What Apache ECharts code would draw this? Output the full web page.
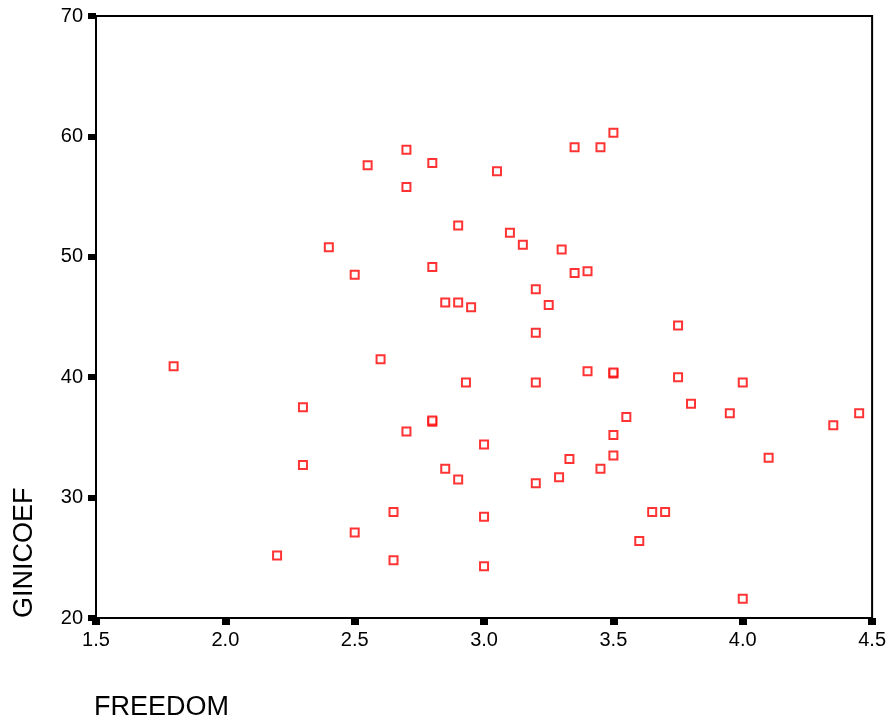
<!DOCTYPE html>
<html>
<head>
<meta charset="utf-8">
<script src="https://cdn.jsdelivr.net/npm/echarts@6/dist/echarts.min.js"></script>
<style>
html,body{margin:0;padding:0;background:#fff;}
#chart{width:889px;height:721px;}
</style>
</head>
<body>
<div id="chart"></div>
<script>
var xTicks = [1.5, 2.0, 2.5, 3.0, 3.5, 4.0, 4.5];
var yTicks = [20, 30, 40, 50, 60, 70];
var xName = 'FREEDOM';
var yName = 'GINICOEF';

var freedom = [
  2.55, 2.7, 2.8, 2.7, 2.9, 2.4, 2.8, 2.5, 2.85, 2.9, 2.95,
  3.5, 3.35, 3.45, 3.05, 3.1, 3.15, 3.3, 3.35, 3.4, 3.2, 3.25,
  1.8, 2.6, 2.93, 2.3, 2.8, 2.8, 2.7, 2.3, 2.85, 2.9, 2.65, 2.5, 2.2, 2.65,
  3.2, 3.75, 3.4, 3.5, 3.5, 3.75, 3.2, 4.0, 3.8, 3.95, 4.45, 3.55, 4.35,
  3.0, 3.5, 3.5, 3.33, 4.1, 3.45, 3.29, 3.2, 3.0, 3.65, 3.7, 3.6, 3.0, 4.0
];
var gini = [
  57.6, 58.9, 57.8, 55.8, 52.6, 50.8, 49.15, 48.5, 46.2, 46.2, 45.8,
  60.3, 59.1, 59.1, 57.1, 52.0, 51.0, 50.6, 48.65, 48.8, 47.3, 46.0,
  40.9, 41.5, 39.55, 37.5, 36.3, 36.4, 35.5, 32.7, 32.4, 31.5, 28.8, 27.1, 25.2, 24.8,
  43.7, 44.3, 40.5, 40.3, 40.4, 40.0, 39.55, 39.55, 37.8, 37.0, 37.0, 36.7, 36.0,
  34.4, 35.2, 33.5, 33.2, 33.3, 32.4, 31.7, 31.2, 28.4, 28.8, 28.8, 26.4, 24.3, 21.6
];

var points = freedom.map(function (f, i) { return [f, gini[i]]; });
var FONT = '"Liberation Sans", Arial, sans-serif';

var chart = echarts.init(document.getElementById('chart'));
chart.setOption({
  animation: false,
  backgroundColor: '#fff',
  grid: {
    left: 96, right: 15, top: 16, bottom: 103,
    show: true, borderColor: '#000', borderWidth: 2, backgroundColor: 'transparent'
  },
  xAxis: {
    type: 'value',
    min: xTicks[0], max: xTicks[xTicks.length - 1], interval: 0.5,
    axisLine: { show: true, lineStyle: { color: '#000', width: 2 } },
    axisTick: { show: true, inside: false, length: 7, lineStyle: { color: '#000', width: 8 } },
    axisLabel: {
      color: '#000', fontSize: 20, fontFamily: FONT, margin: 12,
      formatter: function (v) { return v.toFixed(1); }
    },
    splitLine: { show: false }
  },
  yAxis: {
    type: 'value',
    min: yTicks[0], max: yTicks[yTicks.length - 1], interval: 10,
    axisLine: { show: true, lineStyle: { color: '#000', width: 2 } },
    axisTick: { show: true, inside: false, length: 8, lineStyle: { color: '#000', width: 6 } },
    axisLabel: { color: '#000', fontSize: 20, fontFamily: FONT, margin: 13 },
    splitLine: { show: false }
  },
  graphic: [
    {
      type: 'text', x: 25, y: 618, rotation: Math.PI / 2,
      style: {
        text: yName, fill: '#000', font: '27px ' + FONT,
        textAlign: 'left', textVerticalAlign: 'middle'
      }
    },
    {
      type: 'text', x: 94, y: 708,
      style: {
        text: xName, fill: '#000', font: '27px ' + FONT,
        textAlign: 'left', textVerticalAlign: 'middle'
      }
    }
  ],
  series: [{
    type: 'scatter',
    data: points,
    symbol: 'rect',
    symbolSize: 8,
    itemStyle: { color: '#fff', borderColor: '#ff0000', borderWidth: 2 },
    emphasis: { disabled: true }
  }]
});
</script>
</body>
</html>
